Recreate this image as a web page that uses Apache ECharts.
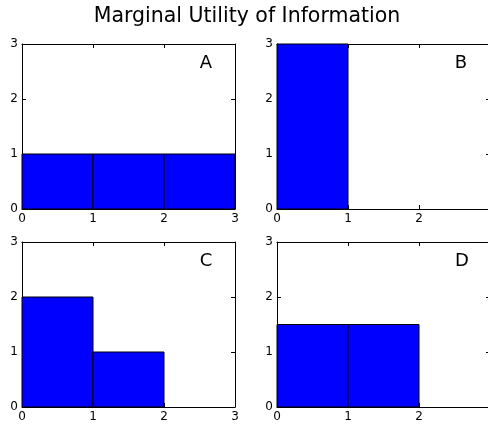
<!DOCTYPE html>
<html>
<head>
<meta charset="utf-8">
<script src="https://cdn.jsdelivr.net/npm/echarts@6/dist/echarts.min.js"></script>
<style>html,body{margin:0;padding:0;background:#fff}#c{width:488px;height:424px}</style>
</head>
<body>
<div id="c"></div>
<script>
const binStarts = [0, 1, 2];
const heightsA = [1, 1, 1];
const heightsB = [3, 0, 0];
const heightsC = [2, 1, 0];
const heightsD = [1.5, 1.5, 0];
const panelLabels = ['A', 'B', 'C', 'D'];
const ticks = [0, 1, 2, 3];
const chartTitle = 'Marginal Utility of Information';

const FONT = 'DejaVu Sans';
const panels = [heightsA, heightsB, heightsC, heightsD];
const grids = [
  {left: 22, top: 44, width: 213, height: 165},
  {left: 277, top: 44, width: 213, height: 165},
  {left: 22, top: 242, width: 213, height: 165},
  {left: 277, top: 242, width: 213, height: 165}
].map(g => Object.assign(g, {outerBoundsMode: 'none', containLabel: false}));
const labelPos = [[206, 63], [461, 63], [206, 261], [462, 261]];

const xAxes = [], yAxes = [], series = [], graphics = [];
const lineStyle = {color: '#000', width: 1};
grids.forEach((g, i) => {
  const rightCol = (i % 2 === 1);
  const common = {gridIndex: i, type: 'value', min: ticks[0], max: ticks[ticks.length - 1], interval: 1,
    splitLine: {show: false}, axisLine: {show: true, onZero: false, lineStyle},
    axisTick: {show: true, inside: true, length: 4, lineStyle}};
  xAxes.push(Object.assign({}, common, {position: 'bottom',
    axisLabel: {show: true, color: '#000', fontFamily: FONT, fontSize: 12, margin: 4,
      showMaxLabel: !rightCol}}));
  xAxes.push(Object.assign({}, common, {position: 'top', axisLabel: {show: false}}));
  yAxes.push(Object.assign({}, common, {position: 'left',
    axisLabel: {show: true, color: '#000', fontFamily: FONT, fontSize: 12, margin: 4}}));
  yAxes.push(Object.assign({}, common, {position: 'right', axisLabel: {show: false}}));
  series.push({
    type: 'custom', xAxisIndex: 2 * i, yAxisIndex: 2 * i, clip: false,
    data: binStarts.map((s, k) => [s, panels[i][k]]),
    renderItem: function (params, api) {
      const x0 = api.value(0), h = api.value(1);
      if (!h) return null;
      const p0 = api.coord([x0, 0]);
      const p1 = api.coord([x0 + 1, h]);
      return {type: 'rect', shape: {x: p0[0], y: p1[1], width: p1[0] - p0[0], height: p0[1] - p1[1]},
        style: {fill: '#0000ff', stroke: '#000', lineWidth: 1}};
    }
  });
  graphics.push({type: 'text', x: labelPos[i][0], y: labelPos[i][1], z: 100,
    style: {text: panelLabels[i], font: '18px "' + FONT + '"', fill: '#000', textAlign: 'center', textVerticalAlign: 'middle'}});
});
graphics.push({type: 'text', x: 247, y: 17, z: 100,
  style: {text: chartTitle, font: '20.5px "' + FONT + '"', fill: '#000', textAlign: 'center', textVerticalAlign: 'middle'}});

const chart = echarts.init(document.getElementById('c'), null, {renderer: 'canvas'});
chart.setOption({
  animation: false,
  backgroundColor: '#fff',
  grid: grids,
  xAxis: xAxes,
  yAxis: yAxes,
  series: series,
  graphic: graphics
});
</script>
</body>
</html>
